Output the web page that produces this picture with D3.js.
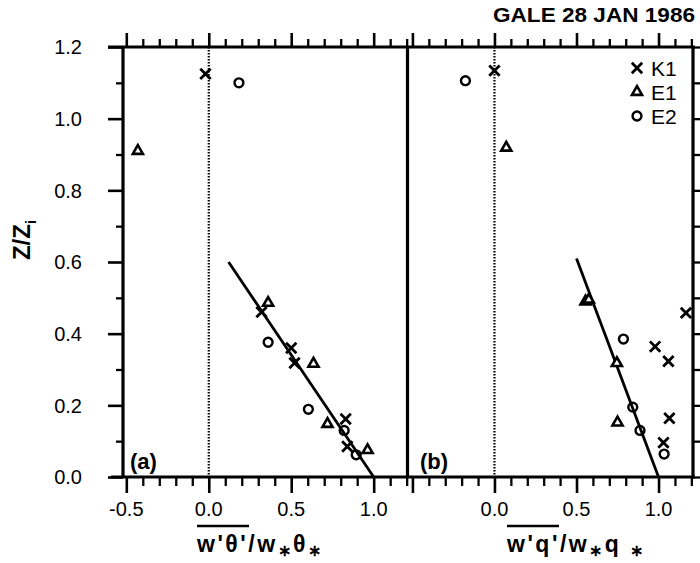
<!DOCTYPE html>
<html>
<head>
<meta charset="utf-8">
<script src="https://cdn.jsdelivr.net/npm/d3@7"></script>
<style>
  body { margin: 0; background: #fff; }
  svg { display: block; font-family: "Liberation Sans", Arial, sans-serif; }
</style>
</head>
<body>
<div id="chart"></div>
<script>
// Panel (a): heat flux w'θ'/w*θ*, panel (b): moisture flux w'q'/w*q*
const k1ThetaX = [-0.02, 0.32, 0.50, 0.52, 0.83, 0.84];
const k1ThetaZ = [1.125, 0.46, 0.36, 0.318, 0.162, 0.085];
const e1ThetaX = [-0.43, 0.36, 0.635, 0.72, 0.963];
const e1ThetaZ = [0.91, 0.486, 0.316, 0.148, 0.075];
const e2ThetaX = [0.183, 0.36, 0.604, 0.821, 0.894];
const e2ThetaZ = [1.10, 0.376, 0.189, 0.13, 0.062];

const k1QX = [0.0, 1.167, 0.979, 1.06, 1.066, 1.03];
const k1QZ = [1.134, 0.458, 0.364, 0.323, 0.164, 0.096];
const e1QX = [0.072, 0.555, 0.575, 0.746, 0.75];
const e1QZ = [0.919, 0.49, 0.495, 0.318, 0.152];
const e2QX = [-0.177, 0.786, 0.843, 0.887, 1.034];
const e2QZ = [1.106, 0.385, 0.195, 0.13, 0.064];

// fitted lines (end points)
const fitThetaX = [0.12, 1.0], fitThetaZ = [0.60, 0.0];
const fitQX = [0.50, 1.0], fitQZ = [0.61, 0.0];

const seriesNames = ["K1", "E1", "E2"];
const zTicks = [0, 0.2, 0.4, 0.6, 0.8, 1.0, 1.2];
const thetaTicks = [-0.5, 0, 0.5, 1.0];
const qTicks = [0, 0.5, 1.0];

const width = 700, height = 563;
const yTop = 47, yBottom = 477, xLeft = 123, xMid = 407.5, xRight = 693;

const svg = d3.select("#chart").append("svg")
    .attr("width", width)
    .attr("height", height);

const y = d3.scaleLinear().domain([0, 1.2]).range([yBottom, yTop]);
const xa = d3.scaleLinear().domain([-0.52, 1.205]).range([xLeft, xMid]);
const xb = d3.scaleLinear().domain([-0.53, 1.21]).range([xMid, xRight]);

const fmt = d3.formatLocale({decimal: ".", thousands: ",", grouping: [3], currency: ["", ""], minus: "-"}).format(".1f");

const minorX = d3.range(-5, 13).map(i => i / 10).filter(v => Math.abs(v * 2 - Math.round(v * 2)) > 1e-6);
const majorX = [-0.5, 0, 0.5, 1.0];
const minorZ = d3.range(1, 12, 2).map(i => i / 10);
const allZ = d3.range(0, 13).map(i => i / 10);

function styleAxis(g, w) {
  g.select(".domain").remove();
  g.selectAll(".tick line").attr("stroke", "#000").attr("stroke-width", w);
  g.selectAll(".tick text").remove();
}

// x ticks for both panels (bottom and top)
[xa, xb].forEach(x => {
  svg.append("g").attr("transform", `translate(0,${yBottom})`)
    .call(d3.axisBottom(x).tickValues(majorX).tickSize(16).tickSizeOuter(0))
    .call(g => styleAxis(g, 2.6));
  svg.append("g").attr("transform", `translate(0,${yBottom})`)
    .call(d3.axisBottom(x).tickValues(minorX).tickSize(9).tickSizeOuter(0))
    .call(g => styleAxis(g, 2.3));
  svg.append("g").attr("transform", `translate(0,${yTop})`)
    .call(d3.axisTop(x).tickValues(majorX).tickSize(14).tickSizeOuter(0))
    .call(g => styleAxis(g, 2.6));
  svg.append("g").attr("transform", `translate(0,${yTop})`)
    .call(d3.axisTop(x).tickValues(minorX).tickSize(8).tickSizeOuter(0))
    .call(g => styleAxis(g, 2.3));
});

// left axis
svg.append("g").attr("transform", `translate(${xLeft},0)`)
  .call(d3.axisLeft(y).tickValues(zTicks).tickSize(15).tickSizeOuter(0))
  .call(g => styleAxis(g, 2.6));
svg.append("g").attr("transform", `translate(${xLeft},0)`)
  .call(d3.axisLeft(y).tickValues(minorZ).tickSize(7).tickSizeOuter(0))
  .call(g => styleAxis(g, 2.3));

// right axis
svg.append("g").attr("transform", `translate(${xRight},0)`)
  .call(d3.axisRight(y).tickValues(allZ).tickSize(10).tickSizeOuter(0))
  .call(g => styleAxis(g, 2.3));

// frame
const frame = svg.append("g").attr("stroke", "#000").attr("stroke-width", 3.2);
frame.append("line").attr("x1", 108).attr("x2", xRight + 2).attr("y1", yTop).attr("y2", yTop);
frame.append("line").attr("x1", 111).attr("x2", xRight + 2).attr("y1", yBottom).attr("y2", yBottom);
frame.append("line").attr("x1", xLeft).attr("x2", xLeft).attr("y1", yTop).attr("y2", yBottom);
frame.append("line").attr("x1", xMid).attr("x2", xMid).attr("y1", yTop).attr("y2", yBottom);
frame.append("line").attr("x1", xRight).attr("x2", xRight).attr("y1", yTop).attr("y2", yBottom);

// dotted zero lines
[xa, xb].forEach(x => {
  svg.append("line")
    .attr("x1", x(0)).attr("x2", x(0)).attr("y1", yTop).attr("y2", yBottom)
    .attr("stroke", "#000").attr("stroke-width", 2.2).attr("stroke-dasharray", "1.6,1.4");
});

// tick labels
svg.append("g").selectAll("text").data(zTicks).join("text")
  .attr("x", 82).attr("y", d => y(d)).attr("dy", "0.36em")
  .attr("text-anchor", "end").attr("font-size", 20).text(d => fmt(d));
svg.append("g").selectAll("text").data(thetaTicks).join("text")
  .attr("x", d => xa(d)).attr("y", 516)
  .attr("text-anchor", "middle").attr("font-size", 20).text(d => fmt(d));
svg.append("g").selectAll("text").data(qTicks).join("text")
  .attr("x", d => xb(d)).attr("y", 516)
  .attr("text-anchor", "middle").attr("font-size", 20).text(d => fmt(d));

// fit lines
const line = d3.line();
svg.append("path")
  .attr("d", line(fitThetaX.map((v, i) => [xa(v), y(fitThetaZ[i])])))
  .attr("stroke", "#000").attr("stroke-width", 2.8).attr("fill", "none");
svg.append("path")
  .attr("d", line(fitQX.map((v, i) => [xb(v), y(fitQZ[i])])))
  .attr("stroke", "#000").attr("stroke-width", 2.8).attr("fill", "none");

// markers
const marker = {
  K1: {sym: d3.symbol().type(d3.symbolX).size(72), fill: "none", sw: 2.8},
  E1: {sym: d3.symbol().type(d3.symbolTriangle).size(44), fill: "#fff", sw: 2.6},
  E2: {sym: d3.symbol().type(d3.symbolCircle).size(62), fill: "none", sw: 2.4}
};

function plot(x, xs, zs, name) {
  const m = marker[name];
  svg.append("g").selectAll("path").data(xs.map((v, i) => [v, zs[i]])).join("path")
    .attr("transform", d => `translate(${x(d[0])},${y(d[1])})`)
    .attr("d", m.sym())
    .attr("fill", m.fill).attr("stroke", "#000").attr("stroke-width", m.sw);
}
plot(xa, k1ThetaX, k1ThetaZ, "K1");
plot(xa, e1ThetaX, e1ThetaZ, "E1");
plot(xa, e2ThetaX, e2ThetaZ, "E2");
plot(xb, k1QX, k1QZ, "K1");
plot(xb, e1QX, e1QZ, "E1");
plot(xb, e2QX, e2QZ, "E2");

// legend
const legend = svg.append("g");
seriesNames.forEach((name, i) => {
  const m = marker[name];
  const ly = 68 + i * 24;
  legend.append("path").attr("transform", `translate(637,${ly})`)
    .attr("d", m.sym()).attr("fill", m.fill).attr("stroke", "#000").attr("stroke-width", m.sw);
  legend.append("text").attr("x", 651).attr("y", ly).attr("dy", "0.36em")
    .attr("font-size", 21).text(name);
});

// panel labels
svg.append("text").attr("x", 130).attr("y", 469).attr("font-size", 22).attr("font-weight", "bold").text("(a)");
svg.append("text").attr("x", 420).attr("y", 469).attr("font-size", 22).attr("font-weight", "bold").text("(b)");

// title
svg.append("text").attr("x", 695).attr("y", 22).attr("text-anchor", "end")
  .attr("font-size", 20).attr("font-weight", "bold").attr("textLength", 202)
  .attr("lengthAdjust", "spacingAndGlyphs").text("GALE 28 JAN 1986");

// y title
const yt = svg.append("text").attr("transform", "translate(30,240) rotate(-90)")
  .attr("text-anchor", "middle").attr("font-size", 24).attr("font-weight", "bold");
yt.append("tspan").text("Z/Z");
yt.append("tspan").attr("font-size", 15).attr("dy", 6).text("i");

// x titles
function xTitle(x0, parts, overLen) {
  const t = svg.append("text").attr("x", x0).attr("y", 552)
    .attr("font-size", 23).attr("font-weight", "bold").attr("letter-spacing", 2.5);
  parts.forEach(p => {
    const s = t.append("tspan").text(p.t);
    if (p.sub) s.attr("font-size", 16).attr("dy", 4);
    if (p.up) s.attr("dy", -4);
  });
  svg.append("line").attr("x1", x0).attr("x2", x0 + overLen).attr("y1", 526).attr("y2", 526)
    .attr("stroke", "#000").attr("stroke-width", 2.5);
}
xTitle(197, [{t: "w'θ'/w"}, {t: "∗", sub: true}, {t: "θ", up: true}, {t: "∗", sub: true}], 52);
xTitle(507, [{t: "w'q'/w"}, {t: "∗", sub: true}, {t: "q ", up: true}, {t: "∗", sub: true}], 52);
</script>
</body>
</html>
